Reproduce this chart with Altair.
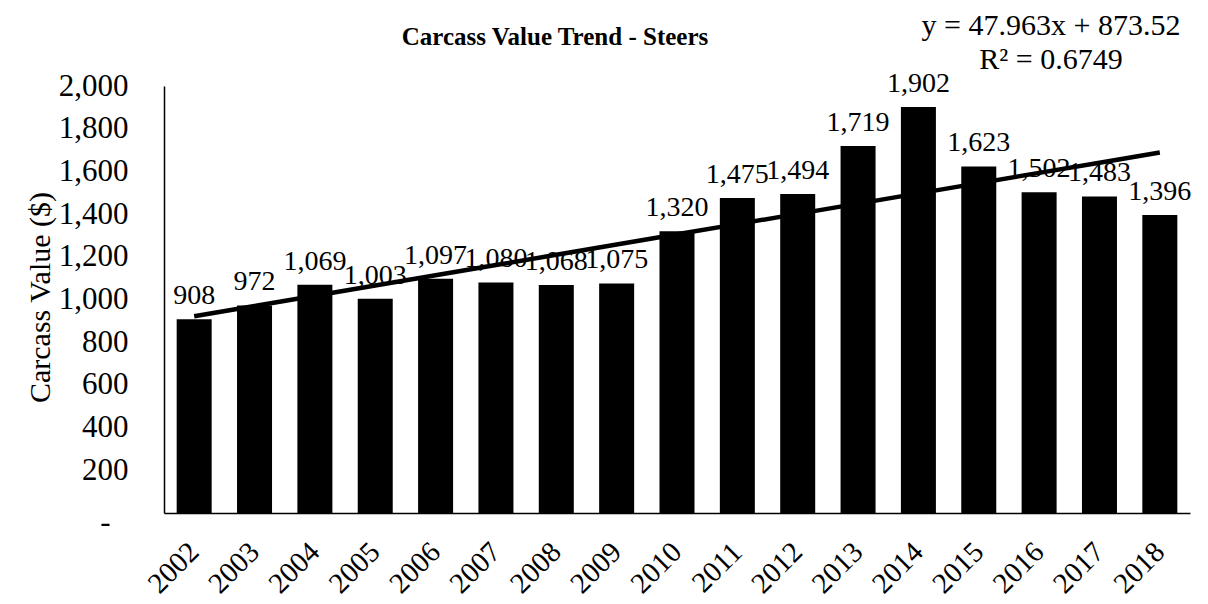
import altair as alt
import pandas as pd

years = [2002, 2003, 2004, 2005, 2006, 2007, 2008, 2009, 2010,
         2011, 2012, 2013, 2014, 2015, 2016, 2017, 2018]
values = [908, 972, 1069, 1003, 1097, 1080, 1068, 1075, 1320,
          1475, 1494, 1719, 1902, 1623, 1502, 1483, 1396]
slope = 47.963
intercept = 873.52
r2 = 0.6749

df = pd.DataFrame({"year": years, "value": values})

FONT = "Liberation Serif"
W, H = 1026, 427

xenc = alt.X("year:O", title=None,
             scale=alt.Scale(paddingInner=0.42, paddingOuter=0.21),
             axis=alt.Axis(labelAngle=-45, labelAlign="right", labelBaseline="middle",
                           labelPadding=34, ticks=False, tickSize=0, labelFontSize=29,
                           labelFont=FONT, labelColor="black", domainColor="black",
                           domainWidth=1.5, grid=False))

yenc = alt.Y("value:Q", title="Carcass Value ($)",
             scale=alt.Scale(domain=[0, 2000], nice=False),
             axis=alt.Axis(values=list(range(0, 2001, 200)), ticks=False, tickSize=0,
                           labelPadding={"condition": {"test": "datum.value == 0", "value": 54},
                                         "value": 36},
                           labelFontSize=31, labelFont=FONT,
                           labelColor="black", domainColor="black", domainWidth=1.5,
                           grid=False,
                           labelOffset={"condition": {"test": "datum.value == 0", "value": 9},
                                        "value": 0},
                           labelExpr="datum.value == 0 ? '-' : format(datum.value, ',')",
                           titleFont=FONT, titleFontSize=30, titleFontWeight="normal",
                           titleColor="black", titleX=-124, titleY=211,
                           titleBaseline="middle", titleAlign="center", titleAngle=270))

base = alt.Chart(df)

bars = base.mark_bar(color="black").encode(x=xenc, y=yenc)

labels = base.mark_text(font=FONT, fontSize=28, color="black", baseline="alphabetic",
                        dy=-15).encode(
    x=alt.X("year:O"), y=alt.Y("value:Q"), text=alt.Text("value:Q", format=","))

trend = base.transform_calculate(
    trend=f"{intercept} + {slope} * (datum.year - {years[0] - 1})"
).mark_line(color="black", strokeWidth=4.5).encode(
    x=alt.X("year:O"), y=alt.Y("trend:Q"))

title = alt.Chart(pd.DataFrame({"t": ["Carcass Value Trend - Steers"]})).mark_text(
    font=FONT, fontSize=25, fontWeight="bold", color="black", align="center",
    baseline="alphabetic").encode(x=alt.value(391), y=alt.value(-41), text="t:N")

eq = alt.Chart(pd.DataFrame({
    "t": [f"y = {slope}x + {intercept}", f"R² = {r2}"],
    "py": [-51, -17]})).mark_text(
    font=FONT, fontSize=30, color="black", align="center", baseline="alphabetic"
).encode(x=alt.value(887), y=alt.Y("py:Q", scale=None), text="t:N")

chart = alt.layer(bars, trend, labels, title, eq).properties(
    width=W, height=H,
    autosize=alt.AutoSizeParams(type="none"),
    padding={"left": 156, "top": 78, "right": 10, "bottom": 88},
).configure_view(stroke=None)

chart.save("out.html", embed_options={"renderer": "svg", "actions": False})
